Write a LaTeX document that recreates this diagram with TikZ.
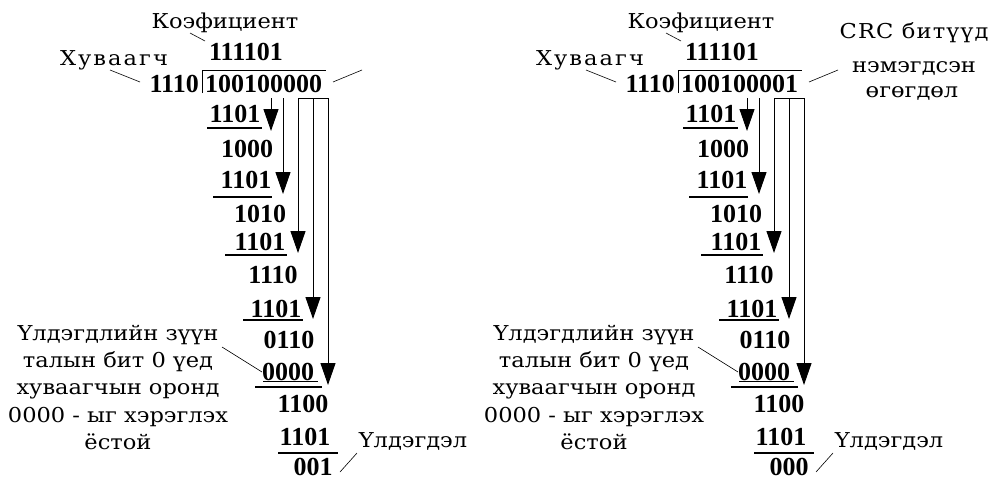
\documentclass[tikz,border=0pt]{standalone}
\usepackage{fontspec}
\setmainfont{Liberation Serif}
\newfontfamily\lblfont[FakeStretch=1.1]{DejaVu Serif}
\newfontfamily\lblwide[FakeStretch=1.1,LetterSpace=10]{DejaVu Serif}
\newfontfamily\lblcrc[FakeStretch=1.1,LetterSpace=6]{DejaVu Serif}
\usetikzlibrary{arrows.meta}
\tikzset{
  lbl/.style={font=\lblfont\fontsize{20.5}{27.3}\selectfont, inner sep=0pt},
  num/.style={font=\bfseries\fontsize{26}{30}\selectfont, inner sep=0pt, anchor=base},
  leader/.style={line width=0.6pt},
  bar/.style={line width=1.3pt},
  plain/.style={line width=1pt},
  flow/.style={line width=1pt, -{Triangle[width=15pt,length=22pt]}},
}
\newcommand\crcdiag[4]{%
\begin{scope}[xshift=#4]
  \node[lbl,anchor=base] (#1koef) at (225,28) {Коэфициент};
  \node[num] (#1q) at (246,60) {111101};
  \node[lbl,anchor=base,font=\lblwide\fontsize{20.5}{27.3}\selectfont] (#1div) at (114,65) {Хуваагч};
  \node[num,anchor=base east] (#1d) at (199,92) {1110};
  \node[num,anchor=base west] (#1m) at (205,92) {#2};
  \draw[plain] (202,93) -- (202,70) -- (326,70);
  % rows
  \node[num] (#1r1) at (235,122) {1101};
  \node[num] (#1a1) at (247,157) {1000};
  \node[num] (#1r2) at (246,188) {1101};
  \node[num] (#1a2) at (260,222) {1010};
  \node[num] (#1r3) at (260,250) {1101};
  \node[num] (#1a3) at (273,283) {1110};
  \node[num] (#1r4) at (276,317) {1101};
  \node[num] (#1a4) at (289,348) {0110};
  \node[num] (#1r5) at (288,380) {0000};
  \node[num] (#1a5) at (303,412) {1100};
  \node[num] (#1r6) at (305,445) {1101};
  \node[num] (#1rem) at (313,475) {#3};
  % subtraction bars
  \draw[bar] (207,128) -- (262,128);
  \draw[bar] (213,197) -- (272,197);
  \draw[bar] (225,255) -- (287,255);
  \draw[bar] (243,320) -- (303,320);
  \draw[leader] (263,381) -- (318,381);
  \draw[bar] (255,387) -- (322,387);
  \draw[bar] (278,453) -- (338,453);
  % bring-down arrows
  \draw[plain] (298,98) -- (328,98);
  \draw[flow] (271,98) -- (271,131);
  \draw[flow] (283,98) -- (283,194);
  \draw[flow] (298,98) -- (298,253);
  \draw[flow] (313,98) -- (313,319);
  \draw[flow] (328,98) -- (328,385);
  % labels
  \node[lbl,align=center,anchor=north] (#1note) at (118,320)
    {\rule{0pt}{20pt}Үлдэгдлийн зүүн\\талын бит 0 үед\\хуваагчын оронд\\0000 - ыг хэрэглэх\\ёстой};
  \node[lbl,anchor=base] (#1rest) at (413,447) {Үлдэгдэл};
  % leaders
  \coordinate (#1kl) at (190,33);
  \coordinate (#1ql) at (205,41);
  \draw[leader] (#1kl) -- (#1ql);
  \coordinate (#1dl1) at (110,70);
  \coordinate (#1dl2) at (140,82);
  \draw[leader] (#1dl1) -- (#1dl2);
  \coordinate (#1ml1) at (333,82);
  \coordinate (#1ml2) at (362,70);
  \draw[leader] (#1ml1) -- (#1ml2);
  \coordinate (#1nl1) at (222,347);
  \coordinate (#1nl2) at (262,372);
  \draw[leader] (#1nl1) -- (#1nl2);
  \coordinate (#1rl1) at (340,472);
  \coordinate (#1rl2) at (357,453);
  \draw[leader] (#1rl1) -- (#1rl2);
\end{scope}}
\begin{document}
\begin{tikzpicture}[x=1pt,y=-1pt]
  \useasboundingbox (0,0) rectangle (993,479);
  \fill[white] (0,0) rectangle (993,479);
  \crcdiag{L}{100100000}{001}{0pt}
  \crcdiag{R}{100100001}{000}{476pt}
  \node[lbl,anchor=base,font=\lblcrc\fontsize{20.5}{27.3}\selectfont] (crc1) at (914,38) {CRC битүүд};
  \node[lbl,anchor=base] (crc2) at (914,72) {нэмэгдсэн};
  \node[lbl,anchor=base] (crc3) at (912,97) {өгөгдөл};
\end{tikzpicture}
\end{document}
